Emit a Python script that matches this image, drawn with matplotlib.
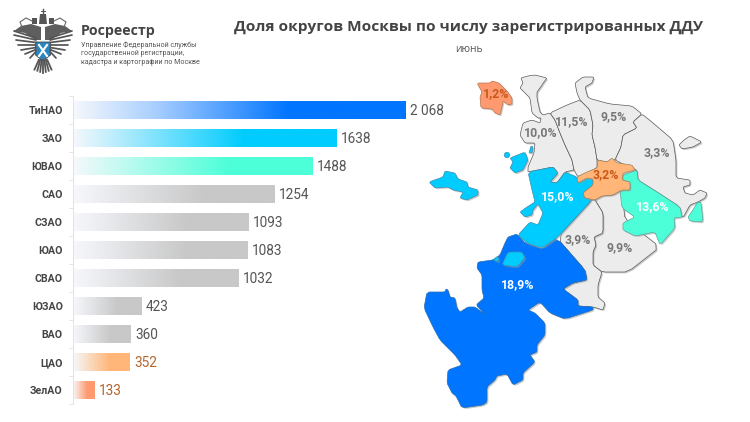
import numpy as np
import matplotlib
matplotlib.use('Agg')
import matplotlib.pyplot as plt
import matplotlib.patheffects as pe
from matplotlib.colors import LinearSegmentedColormap
from matplotlib.patches import Polygon, Circle

plt.rcParams['font.family'] = ['Roboto', 'DejaVu Sans']

# data
districts = ['ТиНАО', 'ЗАО', 'ЮВАО', 'САО', 'СЗАО', 'ЮАО', 'СВАО', 'ЮЗАО', 'ВАО', 'ЦАО', 'ЗелАО']
ddu_counts = [2068, 1638, 1488, 1254, 1093, 1083, 1032, 423, 360, 352, 133]
value_labels = ['2 068', '1638', '1488', '1254', '1093', '1083', '1032', '423', '360', '352', '133']
map_shares = ['1,2%', '10,0%', '11,5%', '9,5%', '3,3%', '3,2%', '15,0%', '13,6%', '3,9%', '9,9%', '18,9%']

bar_colors = ['#0075ff', '#00ccff', '#4dffd8', '#c8c8c8', '#c8c8c8', '#c8c8c8',
              '#c8c8c8', '#c8c8c8', '#c8c8c8', '#ffb678', '#ff9a70']
value_colors = ['#555555'] * 9 + ['#b5652d', '#b5652d']

# map outlines, in picture pixels
GREY = '#ececec'
BLUE = '#0075ff'
CYAN = '#00ccff'
MINT = '#4dffd8'
ORANGE = '#ffb678'
SALMON = '#ff9a70'

szao = [(550,113),(555,120),(560,133),(565,145),(572,160),(574,170),(565,172),(557,183),(550,182),(558,173),
        (553,167),(528,172),(528,167),(534,153),(535,143),(525,143),(520,135),(523,123),(532,120),(540,123),
        (541,118),(538,118),(532,113),(530,98),(525,93),(520,88),(523,83),(521,78),(528,76),(535,75),(547,78),
        (544,82),(540,88),(537,92),(537,98),(540,112),(543,115)]
sao = [(550,113),(567,105),(580,100),(590,110),(593,125),(592,135),(595,147),(597,160),(597,168),(578,177),
       (574,170),(572,160),(565,145),(560,133),(555,120)]
svao = [(580,100),(577,93),(575,83),(583,77),(594,77),(592,83),(585,87),(588,98),(610,104),(632,106),(642,114),
        (633,122),(637,128),(623,135),(621,147),(615,160),(607,162),(597,160),(595,147),(592,135),(593,125),(590,110)]
vao = [(615,160),(621,147),(623,135),(637,128),(633,122),(642,114),(653,123),(673,140),(676,160),(676,178),
       (690,180),(690,185),(683,187),(685,193),(693,195),(700,190),(707,193),(705,198),(698,202),(690,205),
       (684,216),(682,217),(680,207),(657,192),(638,180),(637,170),(625,165)]
vao_island = [(679,145),(684,140),(690,136),(702,142),(693,147),(682,149)]
yuao = [(595,200),(602,196),(613,195),(622,190),(625,220),(660,247),(628,272),(602,272),(593,265),(593,252),
        (596,245),(594,237),(603,233),(603,213)]
yuzao = [(592,200),(595,200),(603,213),(603,233),(594,237),(596,245),(593,252),(593,265),(602,272),(598,285),
         (598,297),(605,303),(603,310),(593,307),(578,306),(578,300),(563,289),(573,283),(587,280),(585,270),(557,238)]
cao = [(577,177),(587,172),(597,168),(598,160),(607,162),(612,158),(617,163),(632,165),(635,170),(623,173),
       (622,180),(630,182),(630,190),(622,190),(613,195),(602,196),(595,200),(585,198),(583,193),(593,185),
       (593,179),(587,178),(578,183)]
zao = [(528,172),(553,167),(558,173),(550,182),(557,183),(565,172),(577,177),(578,183),(587,178),(593,179),
       (593,185),(583,193),(585,198),(592,200),(558,237),(542,248),(527,243),(518,235),(530,222),(538,225),
       (543,213),(538,204),(533,210),(532,215),(525,217),(520,212),(527,207),(535,202),(532,190)]
zao_island_a = [(510,158),(525,152),(528,160),(523,170),(515,173),(510,168),(513,162)]
zao_island_b = [(529,153),(531,146),(533,147),(532,153)]
zao_island_c = [(429,182),(443,177),(445,171),(455,173),(458,179),(467,182),(468,187),(478,190),(478,195),
                (467,200),(460,198),(463,192),(453,190),(448,187),(435,188)]
yuvao = [(623,175),(637,170),(638,180),(657,192),(680,207),(682,217),(674,218),(675,228),(660,245),(655,232),
         (635,236),(623,230),(623,223),(635,217),(622,208),(620,190),(630,190),(630,182),(622,180)]
yuvao_island = [(697,203),(701,202),(703,222),(690,221),(688,217),(693,210)]
tinao = [(517,234),(508,237),(505,243),(500,255),(493,260),(478,262),(477,268),(482,275),(482,290),(484,298),
         (476,305),(486,315),(475,307),(468,307),(460,312),(457,308),(455,298),(450,297),(448,290),(446,289),(445,292),
         (427,292),(424,308),(433,327),(440,340),(455,355),(462,365),(448,370),(447,383),(452,393),(456,396),(462,408),
         (483,405),(487,402),(487,387),(495,380),(497,376),(507,374),(513,385),(523,380),(523,373),(535,362),(530,355),
         (537,352),(537,345),(545,335),(545,323),(535,313),(528,310),(540,302),(550,313),(565,319),(593,310),(593,307),
         (578,306),(578,300),(563,289),(573,283),(587,280),(585,270),(557,238),(542,249),(525,243)]
tinao_island_a = [(502,265),(508,252),(522,252),(525,258),(517,267)]
tinao_island_b = [(493,260),(498,256),(499,262)]
zelao = [(477,83),(490,83),(492,81),(499,83),(507,91),(512,98),(512,104),(508,105),(503,101),(502,107),(500,115),
         (495,113),(492,109),(481,108),(480,97),(482,92)]

map_parts = [(szao, GREY), (sao, GREY), (svao, GREY), (vao, GREY), (vao_island, GREY), (yuao, GREY), (yuzao, GREY),
             (tinao, BLUE), (tinao_island_a, CYAN), (tinao_island_b, CYAN), (zao, CYAN), (zao_island_a, CYAN),
             (zao_island_b, CYAN), (zao_island_c, CYAN), (yuvao, MINT), (yuvao_island, MINT), (cao, ORANGE), (zelao, SALMON)]

share_xy = [(496,94), (541,133), (572,122), (614,117), (657,153), (606,175), (558,197), (653,207), (578,240), (620,248), (518,285)]
share_colors = ['#c8581c', '#777777', '#777777', '#777777', '#777777', '#c8581c', 'white', 'white', '#777777', '#777777', 'white']


def rounded(points, cut=0.12):
    # corner cutting so the district outlines are not so sharp
    pts = np.array(points, dtype=float)
    nxt = np.roll(pts, -1, axis=0)
    out = np.empty((len(pts) * 2, 2))
    out[0::2] = pts + cut * (nxt - pts)
    out[1::2] = pts + (1 - cut) * (nxt - pts)
    return out


fig = plt.figure(figsize=(7.5, 4.22), dpi=100)

# whole picture axes, pixel coordinates
bg = fig.add_axes([0, 0, 1, 1])
bg.set_xlim(0, 750)
bg.set_ylim(422, 0)
bg.axis('off')

shadow = [pe.SimplePatchShadow(offset=(1, -1), shadow_rgbFace='#999999', alpha=0.5), pe.Normal()]
edge_colors = {GREY: '#5a5a5a', BLUE: '#2a6fb0', CYAN: '#3c8fae', MINT: '#58a898', ORANGE: '#a0825f', SALMON: '#b5754f'}
for outline, color in map_parts:
    bg.add_patch(Polygon(rounded(outline), closed=True, facecolor=color, edgecolor=edge_colors[color], linewidth=0.5,
                         joinstyle='round', path_effects=shadow))
bg.add_patch(Circle((507, 155), 2.8, facecolor=CYAN, edgecolor='#3c8fae', linewidth=0.4))

for share, (x, y), color in zip(map_shares, share_xy, share_colors):
    bg.text(x, y, share, color=color, fontsize=8.8, fontweight='bold', ha='center', va='center')

# titles
bg.text(468, 27, 'Доля округов Москвы по числу зарегистрированных ДДУ', family='Open Sans', fontweight='bold',
        fontsize=11.1, color='#444444', ha='center', va='center')
bg.text(469, 49.5, 'июнь', family='Open Sans', fontsize=7.4, color='#555555', ha='center', va='center')

# logo
bg.text(81, 31, 'Росреестр', family='Open Sans', fontweight='bold', fontsize=10.2, color='#444444', va='center')
for y, line in zip([45, 53.5, 62], ['Управление Федеральной службы', 'государственной регистрации,',
                                    'кадастра и картографии по Москве']):
    bg.text(81, y, line, fontsize=5.15, color='#555555', va='center')

cx = 43
wing_tips = [(29, 31), (29, 35), (27, 40), (25, 45), (22, 50), (18, 54), (13, 58)]
for s in (-1, 1):
    for dx, y in wing_tips:
        bg.plot([cx + s * 7, cx + s * dx], [38 + (y - 31) * 0.5, y], color='#555555', lw=1.25, solid_capstyle='round')
    bg.add_patch(Polygon([(cx + s * 2, 27), (cx + s * 12, 24), (cx + s * 22, 26), (cx + s * 29, 31), (cx + s * 18, 33),
                          (cx + s * 8, 40), (cx + s * 2, 40)], closed=True, facecolor='#5e5e5e', edgecolor='none'))
    bg.add_patch(Polygon([(cx + s * 6, 18), (cx + s * 11, 18), (cx + s * 11, 24), (cx + s * 6, 24)], closed=True,
                         facecolor='#555555', edgecolor='none'))
    bg.plot([cx + s * 11, cx + s * 17, cx + s * 23, cx + s * 21], [21, 18, 22, 27], color='#666666', lw=0.8)
bg.add_patch(Polygon([(cx-3,14),(cx+3,14),(cx+4,24),(cx-4,24)], closed=True, facecolor='#555555', edgecolor='none'))
bg.plot([cx, cx], [9, 14], color='#555555', lw=1)
bg.plot([cx-2, cx+2], [11, 11], color='#555555', lw=0.7)
for d in np.linspace(-8.5, 8.5, 7):
    bg.plot([cx + d * 0.5, cx + d], [60, 73 - abs(d) * 0.4], color='#555555', lw=1.3)
bg.add_patch(Polygon([(cx-7.5,42),(cx+7.5,42),(cx+7.5,55),(cx,61),(cx-7.5,55)], closed=True, facecolor='#2a86c0',
                     edgecolor='#444444', linewidth=0.6))
bg.plot([cx-4, cx+4], [45, 56], color='white', lw=1.5)
bg.plot([cx-4, cx+4], [56, 45], color='white', lw=1.5)

# bars
ax_left, ax_right, ax_top, ax_bottom = 72.5, 450, 96, 404
ax = fig.add_axes([ax_left / 750, 1 - ax_bottom / 422, (ax_right - ax_left) / 750, (ax_bottom - ax_top) / 422])
ax.patch.set_alpha(0)
px_per_unit = 332.5 / 2068
xmax = (ax_right - ax_left) / px_per_unit

ypos = np.arange(len(districts))
bars = ax.barh(ypos, ddu_counts, height=0.63, color=bar_colors, linewidth=0, zorder=1)

for bar, color in zip(bars, bar_colors):
    stops = [(0, '#f6f8fc'), (0.65, color), (1, color)]
    if color == '#0075ff':
        stops = [(0, '#f6f8fc'), (0.25, '#a8ceff'), (0.65, color), (1, color)]
    cmap = LinearSegmentedColormap.from_list('fade', stops)
    grad = np.linspace(0, 1, 256).reshape(1, -1)
    ax.imshow(grad, cmap=cmap, aspect='auto', zorder=2, interpolation='bilinear',
              extent=(bar.get_x(), bar.get_x() + bar.get_width(), bar.get_y() + bar.get_height(), bar.get_y()))

for i, bar in enumerate(bars):
    ax.annotate(value_labels[i], (bar.get_width(), i), xytext=(3.5, -0.5), textcoords='offset points',
                fontsize=9.8, color=value_colors[i], va='center', ha='left')

ax.set_xlim(0, xmax)
ax.set_ylim(len(districts) - 0.5, -0.5)
ax.set_yticks(ypos)
ax.set_yticklabels(districts, fontsize=7.6, fontweight='bold', color='#444444')
ax.set_yticks(np.arange(len(districts) + 1) - 0.5, minor=True)
ax.tick_params(axis='y', which='major', length=0, pad=7)
ax.tick_params(axis='y', which='minor', length=3, color='#e3e3e3', width=0.7)
ax.set_xticks([])
for side in ['top', 'right', 'bottom']:
    ax.spines[side].set_visible(False)
ax.spines['left'].set_color('#e3e3e3')
ax.spines['left'].set_linewidth(0.7)

fig.savefig('out.png', dpi=100)
